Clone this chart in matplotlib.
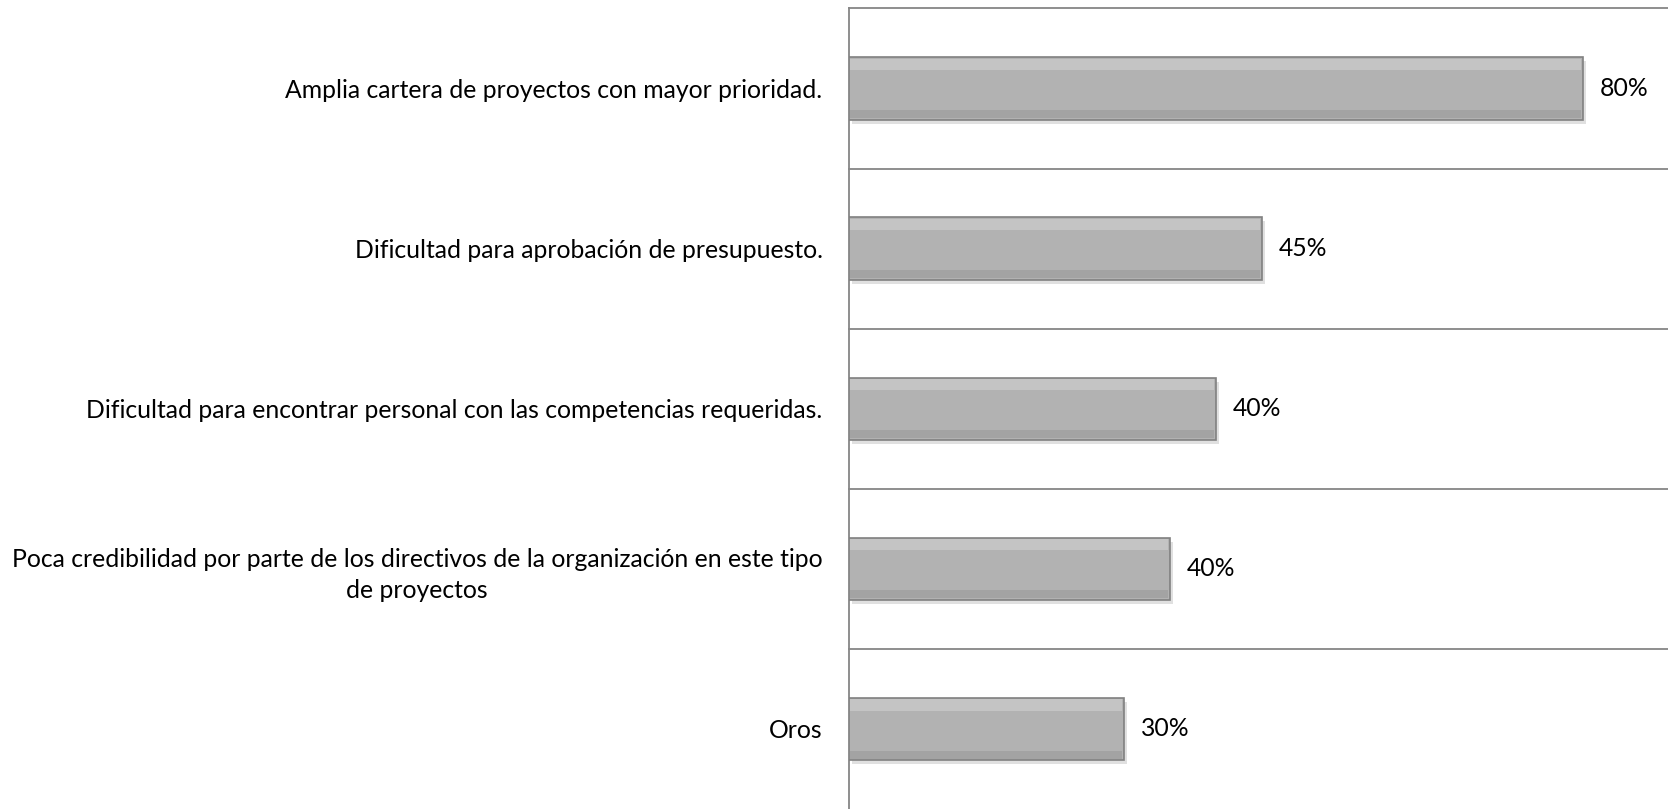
import numpy as np
import matplotlib
matplotlib.use("Agg")
from matplotlib import pyplot as plt

categories = [
    "Amplia cartera de proyectos con mayor prioridad.",
    "Dificultad para aprobación de presupuesto.",
    "Dificultad para encontrar personal con las competencias requeridas.",
    "Poca credibilidad por parte de los directivos de la organización en este tipo\nde proyectos",
    "Oros",
]
values = [80, 45, 40, 35, 30]
value_labels = ["80%", "45%", "40%", "40%", "30%"]

plt.rcParams['font.family'] = ['Lato', 'DejaVu Sans']

W, H = 1668, 809
fig = plt.figure(figsize=(W / 100, H / 100), dpi=100)
left = 849 / W
top = 8.5 / H
ax = fig.add_axes([left, 0, 1 - left, 1 - top])

y = np.arange(len(categories))
bh = 0.39
inner = np.array(values) - 0.35

# shadow
ax.barh(y + 0.025, values, height=bh, left=0.35, color='#000000', alpha=0.12, zorder=2)
# main bar
ax.barh(y, values, height=bh, color='#b2b2b2', edgecolor='#808080', linewidth=1.2, zorder=3)
# bevel: light top strip, dark bottom strip
ax.barh(y - bh / 2 + 0.045, inner, height=0.07, left=0.15, color='#c4c4c4', linewidth=0, zorder=4)
ax.barh(y + bh / 2 - 0.035, inner, height=0.05, left=0.15, color='#a3a3a3', linewidth=0, zorder=4)

for yi, v, lab in zip(y, values, value_labels):
    ax.annotate(lab, (v, yi), xytext=(12, 0), textcoords='offset points',
                va='center', ha='left', fontsize=17.8, color='#000000')

ax.set_xlim(0, 89.3)
ax.set_ylim(len(categories) - 0.5, -0.5)
ax.set_yticks(y)
ax.set_yticklabels(categories, fontsize=17.8, multialignment='center', linespacing=1.45)
ax.tick_params(axis='y', length=0, pad=19)
ax.set_xticks([])

# horizontal separators between categories
for b in np.arange(len(categories)) - 0.5:
    ax.axhline(b, color='#868686', linewidth=1.3, zorder=1, clip_on=False)

for s in ['right', 'bottom', 'top']:
    ax.spines[s].set_visible(False)
ax.spines['left'].set_color('#868686')
ax.spines['left'].set_linewidth(1.3)

fig.savefig('out.png', dpi=100)
